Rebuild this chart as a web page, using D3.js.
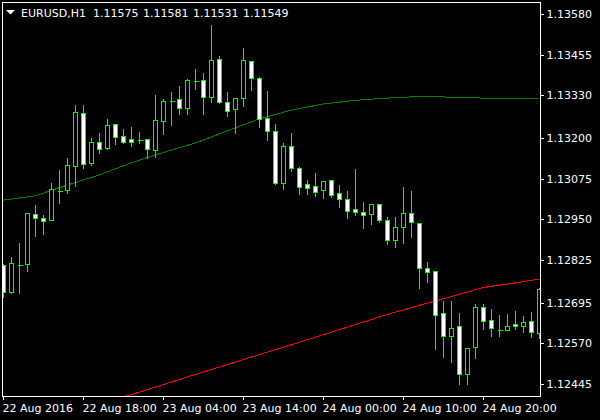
<!DOCTYPE html>
<html><head><meta charset="utf-8">
<script src="https://cdn.jsdelivr.net/npm/d3@7"></script>
<style>
html,body{margin:0;padding:0;background:#000;}
svg{display:block;}
text{font-family:"DejaVu Sans",sans-serif;font-size:11px;fill:#fff;}
</style></head>
<body><svg id="c" width="600" height="420"></svg>
<script>
// ---- data ----
const symbolTitle = "EURUSD,H1";
const headerValues = ["1.11575", "1.11581", "1.11531", "1.11549"];
const opens  = [1.12810,1.12727,1.12810,1.12813,1.12966,1.12954,1.12948,1.13037,1.13040,1.13114,
                1.13276,1.13123,1.13187,1.13169,1.13243,1.13206,1.13197,1.13193,1.13197,1.13163,
                1.13252,1.13313,1.13319,1.13292,1.13374,1.13378,1.13325,1.13442,1.13310,1.13289,
                1.13322,1.13436,1.13384,1.13261,1.13221,1.13062,1.13175,1.13108,1.13059,1.13052,
                1.13040,1.13071,1.13031,1.13012,1.12982,1.12973,1.12966,1.12997,1.12948,1.12887,
                1.12927,1.12970,1.12939,1.12801,1.12792,1.12663,1.12592,1.12623,1.12476,1.12558,
                1.12681,1.12641,1.12611,1.12611,1.12629,1.12623,1.12638,1.12601];
const highs  = [1.12816,1.12838,1.12881,1.12973,1.12997,1.12966,1.13065,1.13105,1.13141,1.13304,
                1.13304,1.13203,1.13218,1.13261,1.13243,1.13230,1.13236,1.13221,1.13197,1.13335,
                1.13322,1.13344,1.13362,1.13384,1.13414,1.13402,1.13549,1.13454,1.13344,1.13325,
                1.13479,1.13439,1.13390,1.13347,1.13246,1.13187,1.13218,1.13114,1.13074,1.13095,
                1.13068,1.13071,1.13059,1.13040,1.13108,1.13006,1.12997,1.12997,1.12960,1.12960,
                1.13052,1.13040,1.12942,1.12822,1.12792,1.12703,1.12703,1.12666,1.12558,1.12693,
                1.12693,1.12678,1.12660,1.12663,1.12672,1.12657,1.12669,1.12743];
const lows   = [1.12712,1.12724,1.12724,1.12792,1.12899,1.12905,1.12948,1.13000,1.13031,1.13052,
                1.13108,1.13117,1.13154,1.13166,1.13181,1.13184,1.13175,1.13184,1.13138,1.13141,
                1.13212,1.13239,1.13273,1.13273,1.13350,1.13273,1.13310,1.13307,1.13267,1.13215,
                1.13298,1.13347,1.13233,1.13193,1.13059,1.13043,1.13098,1.13028,1.13028,1.13022,
                1.13016,1.13019,1.12988,1.12954,1.12963,1.12924,1.12936,1.12942,1.12874,1.12865,
                1.12878,1.12896,1.12739,1.12758,1.12552,1.12528,1.12512,1.12445,1.12445,1.12525,
                1.12614,1.12592,1.12592,1.12611,1.12614,1.12604,1.12589,1.12586];
const closes = [1.12727,1.12816,1.12810,1.12970,1.12954,1.12945,1.13043,1.13037,1.13117,1.13279,
                1.13120,1.13187,1.13166,1.13239,1.13203,1.13187,1.13187,1.13193,1.13166,1.13255,
                1.13313,1.13313,1.13292,1.13378,1.13374,1.13325,1.13439,1.13310,1.13282,1.13322,
                1.13439,1.13384,1.13258,1.13221,1.13062,1.13175,1.13108,1.13049,1.13046,1.13034,
                1.13068,1.13025,1.13012,1.12976,1.12973,1.12963,1.12997,1.12948,1.12887,1.12927,
                1.12970,1.12942,1.12801,1.12789,1.12657,1.12592,1.12617,1.12476,1.12555,1.12681,
                1.12638,1.12617,1.12611,1.12623,1.12623,1.12635,1.12604,1.12736];
const slowMaBars   = [0,4,8,12,16,20,24,28,32,36,40,44,48,52,56,60,64,67];
const slowMaValues = [1.13009,1.13022,1.13055,1.13086,1.13123,1.13155,1.13184,1.13221,1.13258,1.13285,
                      1.13304,1.13315,1.13322,1.13327,1.13325,1.13322,1.13321,1.13321];
const redMaBars   = [12,16,20,24,28,32,36,40,44,48,52,56,60,64,67];
const redMaValues = [1.12386,1.12412,1.12443,1.12474,1.12504,1.12535,1.12565,1.12596,1.12627,1.12658,
                     1.12686,1.12713,1.12741,1.12755,1.12767];
const priceTicks = [1.13580,1.13455,1.13330,1.13200,1.13075,1.12950,1.12825,1.12695,1.12570,1.12445];
const timeTickBars = [0,10,20,30,40,50,60];
const timeTickLabels = ["22 Aug 2016","22 Aug 18:00","23 Aug 04:00","23 Aug 14:00","24 Aug 00:00","24 Aug 10:00","24 Aug 20:00"];

// ---- drawing ----
const svg = d3.select("#c");
const L = 2, T = 2, R = 540, B = 396;
const x = d3.scaleLinear().domain([0, 67]).range([3, 539]);
const y = d3.scaleLinear().domain([1.12445, 1.13580]).range([384, 14]);
const px = i => Math.round(x(i)) + 0.5;
const py = v => Math.round(y(v)) + 0.5;

svg.append("rect").attr("width",600).attr("height",420).attr("fill","#000");
svg.append("clipPath").attr("id","clip").append("rect")
  .attr("x",L+1).attr("y",T+1).attr("width",R-L-1).attr("height",B-T-1);

const plot = svg.append("g").attr("clip-path","url(#clip)");

const bars = d3.range(opens.length).map(i => ({i, o:opens[i], h:highs[i], l:lows[i], c:closes[i]}));

// moving averages
const line = d3.line().x(d => x(d[0])).y(d => y(d[1]));
plot.append("path").datum(slowMaBars.map((b,j)=>[b, slowMaValues[j]]))
  .attr("d", line).attr("fill","none").attr("stroke","#008000").attr("stroke-width",1)
  .attr("shape-rendering","crispEdges");
plot.append("path").datum(redMaBars.map((b,j)=>[b, redMaValues[j]]))
  .attr("d", line).attr("fill","none").attr("stroke","#ff0000").attr("stroke-width",1)
  .attr("shape-rendering","crispEdges");

// candles
const g = plot.append("g").attr("shape-rendering","crispEdges");
g.selectAll("line.w").data(bars).join("line")
  .attr("x1", d=>px(d.i)).attr("x2", d=>px(d.i))
  .attr("y1", d=>py(d.h)).attr("y2", d=>py(d.l)+0.5)
  .attr("stroke","#00ff00");
g.selectAll("rect.b").data(bars.filter(d=>d.o!==d.c)).join("rect")
  .attr("x", d=>px(d.i)-2).attr("width",4)
  .attr("y", d=>py(Math.max(d.o,d.c)))
  .attr("height", d=>Math.max(1, py(Math.min(d.o,d.c)) - py(Math.max(d.o,d.c))))
  .attr("fill", d=> d.c < d.o ? "#ffffff" : "#000000")
  .attr("stroke","#00ff00");
g.selectAll("line.d").data(bars.filter(d=>d.o===d.c)).join("line")
  .attr("x1", d=>px(d.i)-2).attr("x2", d=>px(d.i)+3)
  .attr("y1", d=>py(d.o)).attr("y2", d=>py(d.o))
  .attr("stroke","#00ff00");

// frame
const fr = svg.append("g").attr("shape-rendering","crispEdges");
fr.append("rect").attr("x",L+0.5).attr("y",T+0.5).attr("width",R-L).attr("height",B-T)
  .attr("fill","none").attr("stroke","#fff");

// price axis
const ya = fr.append("g");
ya.selectAll("line").data(priceTicks).join("line")
  .attr("x1",R).attr("x2",R+4).attr("y1",d=>py(d)).attr("y2",d=>py(d)).attr("stroke","#fff");
svg.selectAll("text.p").data(priceTicks).join("text").attr("class","p")
  .attr("x",546.5).attr("y",d=>y(d)+4).text(d=>d3.format(".5f")(d));

// time axis
fr.selectAll("line.t").data(timeTickBars).join("line").attr("class","t")
  .attr("x1",d=>px(d)).attr("x2",d=>px(d)).attr("y1",B).attr("y2",B+4).attr("stroke","#fff");
svg.selectAll("text.t").data(timeTickBars).join("text").attr("class","t")
  .attr("x",d=>Math.round(x(d))-0.5).attr("y",412).text((d,j)=>timeTickLabels[j]);

// header
svg.append("path").attr("d","M6,10 L15,10 L10.5,14.5 Z").attr("fill","#fff");
svg.append("text").attr("x",21).attr("y",16.5).text(symbolTitle);
svg.selectAll("text.h").data(headerValues).join("text").attr("class","h")
  .attr("x",(d,j)=>93 + j*50).attr("y",16.5).text(d=>d);
</script></body></html>
